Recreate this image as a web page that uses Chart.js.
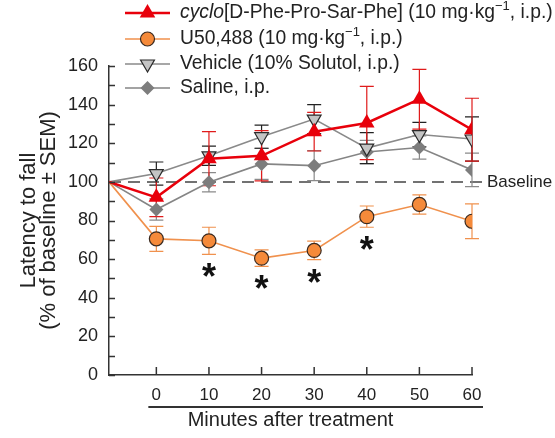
<!DOCTYPE html>
<html>
<head>
<meta charset="utf-8">
<script src="https://cdn.jsdelivr.net/npm/chart.js@4.4.1/dist/chart.umd.min.js"></script>
<style>
  html, body { margin: 0; padding: 0; background: #fff; }
</style>
</head>
<body>
<canvas id="c" width="555" height="438"></canvas>
<script>
// x = minutes after treatment; the first point is the pre-treatment baseline
const minutes = [-9, 0, 10, 20, 30, 40, 50, 60];

const cycloMean  = [100, 92, 112, 113.5, 126, 130.5, 142.8, 127];
const cycloSem   = [0, 10, 14, 13, 10, 19, 15.5, 16.3];
const u50Mean    = [100, 70.5, 69.5, 60.5, 64.5, 82, 88.3, 79.6];
const u50Sem     = [0, 6.5, 7, 4.3, 4.8, 5.5, 5, 9];
const vehMean    = [100, 104.3, 113.5, 123.4, 132.5, 117.5, 124.5, 122.2];
const vehSem     = [0, 6, 5, 6, 7.5, 8, 6.3, 11.5];
const salMean    = [100, 85.7, 99.8, 109.3, 108.4, 115.5, 117.8, 106.2];
const salSem     = [0, 5.5, 5, 8, 7.8, 6, 6, 8.7];

// U50,488 time points marked significant (*)
const sigMinutes = [10, 20, 30, 40];

const yTicks = { min: 0, max: 160, major: 20, minor: 10 };
const xTickMinutes = [0, 10, 20, 30, 40, 50, 60];

const labels = [
  '<i>cyclo</i>[D-Phe-Pro-Sar-Phe] (10 mg·kg<sup>−1</sup>, i.p.)',
  'U50,488 (10 mg·kg<sup>−1</sup>, i.p.)',
  'Vehicle (10% Solutol, i.p.)',
  'Saline, i.p.'
];

const FONT = '"Liberation Sans", Arial, Helvetica, sans-serif';
const INK = '#222';

function pts(ys) { return minutes.map((m, i) => ({ x: m, y: ys[i] })); }
const hideFirst = (r) => (ctx) => ctx.dataIndex === 0 ? 0 : r;

const series = [
  { mean: cycloMean, sem: cycloSem, line: '#e8000b', fill: '#e8000b', edge: '#e8000b', err: '#e01b1b',
    style: 'triangle', r: 9, rot: 0, lw: 2.5, bw: 0 },
  { mean: u50Mean, sem: u50Sem, line: '#f0914d', fill: '#f58a3a', edge: '#3a2a20', err: '#f0914d',
    style: 'circle', r: 7, rot: 0, lw: 1.6, bw: 1.2 },
  { mean: vehMean, sem: vehSem, line: '#8a8a8a', fill: '#c4c4c4', edge: '#2a2a2a', err: '#222222',
    style: 'triangle', r: 8, rot: 180, lw: 1.6, bw: 1.2 },
  { mean: salMean, sem: salSem, line: '#858585', fill: '#7d7d7d', edge: '#7d7d7d', err: '#8a8a8a',
    style: 'rectRot', r: 7, rot: 0, lw: 1.6, bw: 0 }
];

const datasets = series.map((s, k) => ({
  label: labels[k].replace(/<[^>]+>/g, ''),
  data: pts(s.mean),
  borderColor: s.line,
  borderWidth: s.lw,
  backgroundColor: s.fill,
  pointBackgroundColor: s.fill,
  pointBorderColor: s.edge,
  pointBorderWidth: s.bw,
  pointStyle: s.style,
  pointRotation: s.rot,
  pointRadius: hideFirst(s.r),
  pointHoverRadius: hideFirst(s.r),
  tension: 0,
  fill: false
}));

function drawRich(ctx, str, x, y, size) {
  const parts = str.split(/(<i>.*?<\/i>|<sup>.*?<\/sup>)/).filter(Boolean);
  for (const p of parts) {
    let t = p, font = size + 'px ' + FONT, dy = 0;
    if (p.startsWith('<i>')) { t = p.slice(3, -4); font = 'italic ' + font; }
    else if (p.startsWith('<sup>')) { t = p.slice(5, -6); font = Math.round(size * 0.68) + 'px ' + FONT; dy = -size * 0.36; }
    ctx.font = font;
    ctx.fillText(t, x, y + dy);
    x += ctx.measureText(t).width;
  }
}

function marker(ctx, s, x, y) {
  ctx.save();
  ctx.fillStyle = s.fill;
  ctx.strokeStyle = s.edge;
  ctx.lineWidth = s.bw;
  Chart.helpers.drawPoint(ctx, { pointStyle: s.style, radius: s.r, rotation: s.rot, borderWidth: s.bw }, x, y);
  ctx.restore();
}

const figurePlugin = {
  id: 'figure',
  beforeDatasetsDraw(chart) {
    const { ctx, scales: { x, y } } = chart;
    // dashed baseline at 100 %
    const yb = y.getPixelForValue(100);
    ctx.save();
    ctx.strokeStyle = '#444';
    ctx.lineWidth = 1.5;
    ctx.setLineDash([12, 7]);
    ctx.beginPath();
    ctx.moveTo(chart.chartArea.left, yb);
    ctx.lineTo(chart.chartArea.right + 11, yb);
    ctx.stroke();
    ctx.setLineDash([]);
    ctx.fillStyle = INK;
    ctx.font = '17px ' + FONT;
    ctx.textBaseline = 'middle';
    ctx.fillText('Baseline', chart.chartArea.right + 15, yb);

    // error bars (± SEM), drawn back to front
    for (let k = series.length - 1; k >= 0; k--) {
      const s = series[k];
      ctx.strokeStyle = s.err;
      ctx.lineWidth = 1.2;
      s.mean.forEach((m, i) => {
        if (!s.sem[i]) return;
        const px = x.getPixelForValue(minutes[i]);
        const top = y.getPixelForValue(m + s.sem[i]);
        const bot = y.getPixelForValue(m - s.sem[i]);
        ctx.beginPath();
        ctx.moveTo(px, top); ctx.lineTo(px, bot);
        ctx.moveTo(px - 7, top); ctx.lineTo(px + 7, top);
        ctx.moveTo(px - 7, bot); ctx.lineTo(px + 7, bot);
        ctx.stroke();
      });
    }
    ctx.restore();
  },
  afterDraw(chart) {
    const { ctx, chartArea: a, scales: { x, y } } = chart;
    ctx.save();
    ctx.strokeStyle = '#333';
    ctx.lineWidth = 1.5;
    ctx.beginPath();
    // inward y ticks every 10
    for (let v = yTicks.min; v <= yTicks.max; v += yTicks.minor) {
      const py = Math.round(y.getPixelForValue(v)) + 0.5;
      ctx.moveTo(a.left, py); ctx.lineTo(a.left + 6, py);
    }
    // inward x ticks
    xTickMinutes.forEach(m => {
      const px = x.getPixelForValue(m);
      ctx.moveTo(px, a.bottom); ctx.lineTo(px, a.bottom - 8);
    });
    ctx.stroke();

    // rule between tick labels and axis title
    ctx.strokeStyle = '#333';
    ctx.lineWidth = 2;
    ctx.beginPath();
    ctx.moveTo(x.getPixelForValue(0) - 8, 407);
    ctx.lineTo(x.getPixelForValue(60) + 11, 407);
    ctx.stroke();

    // significance asterisks under U50,488
    ctx.fillStyle = '#111';
    ctx.font = 'bold 36px ' + FONT;
    ctx.textAlign = 'center';
    ctx.textBaseline = 'alphabetic';
    const mt = ctx.measureText('*');
    const mid = (mt.actualBoundingBoxAscent - mt.actualBoundingBoxDescent) / 2;
    sigMinutes.forEach(m => {
      const i = minutes.indexOf(m);
      const px = x.getPixelForValue(m);
      const py = y.getPixelForValue(u50Mean[i] - u50Sem[i]) + 16;
      ctx.fillText('*', px, py + mid);
    });

    // legend
    ctx.textAlign = 'left';
    ctx.textBaseline = 'middle';
    ctx.fillStyle = INK;
    const rows = [13, 39, 64, 88];
    series.forEach((s, k) => {
      const ly = rows[k];
      ctx.strokeStyle = s.line;
      ctx.lineWidth = s.lw;
      ctx.beginPath();
      ctx.moveTo(125, ly); ctx.lineTo(170, ly);
      ctx.stroke();
      marker(ctx, s, 147.5, ly);
      ctx.fillStyle = INK;
      drawRich(ctx, labels[k], 180, ly, 19.3);
    });
    ctx.restore();
  }
};

new Chart(document.getElementById('c'), {
  type: 'line',
  data: { datasets },
  options: {
    responsive: false,
    animation: false,
    events: [],
    layout: { padding: { left: 0, right: 83, top: 66, bottom: 0 } },
    plugins: { legend: { display: false }, tooltip: { enabled: false } },
    scales: {
      x: {
        type: 'linear',
        min: minutes[0],
        max: 60,
        afterFit: (s) => { s.height = 63; },
        afterBuildTicks: (s) => { s.ticks = xTickMinutes.map(v => ({ value: v })); },
        grid: { display: false, drawTicks: false },
        border: { display: true, color: '#333', width: 1.5 },
        ticks: { padding: 10, color: INK, font: { family: FONT, size: 17 }, maxRotation: 0 },
        title: { display: true, text: 'Minutes after treatment', color: INK,
                 font: { family: FONT, size: 20 }, padding: { top: 0, bottom: 6 } }
      },
      y: {
        min: yTicks.min,
        max: yTicks.max,
        afterFit: (s) => { s.width = 109; },
        grid: { display: false, drawTicks: false },
        border: { display: true, color: '#333', width: 1.5 },
        ticks: { stepSize: yTicks.major, padding: 11, color: INK, font: { family: FONT, size: 18 } },
        title: { display: true, text: ['Latency to fall', '(% of baseline ± SEM)'], color: INK,
                 font: { family: FONT, size: 22, lineHeight: 0.95 }, padding: { top: 18, bottom: 0 } }
      }
    }
  },
  plugins: [figurePlugin]
});
</script>
</body>
</html>
